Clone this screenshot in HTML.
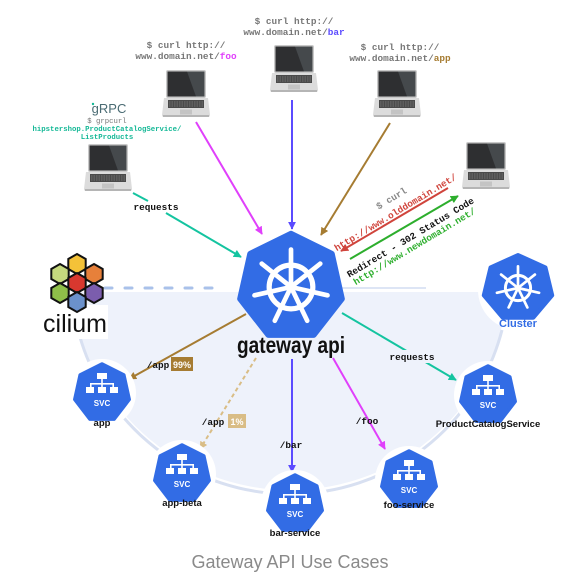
<!DOCTYPE html>
<html><head><meta charset="utf-8"><style>
html,body{margin:0;padding:0;background:#fff}
svg{display:block}
.m{font-family:"Liberation Mono",monospace;font-weight:bold;font-size:9.4px}
.s{font-family:"Liberation Sans",sans-serif;font-weight:bold}
</style></head><body>
<svg width="580" height="582" viewBox="0 0 580 582" xmlns="http://www.w3.org/2000/svg">
<defs>
<g id="lap">
  <rect x="4" y="0" width="40" height="28" rx="2" fill="#c9c9c9"/>
  <rect x="5.5" y="1.5" width="37" height="25" fill="#2e2f31"/>
  <polygon points="25,1.5 42.5,1.5 42.5,26.5 34,26.5" fill="#45494c"/>
  <path d="M2,28 H46 L48,45 Q48,47 46,47 H2 Q0,47 0,45 Z" fill="#dcdcdc"/>
  <rect x="1" y="45" width="46" height="2" fill="#b5b5b5"/>
  <rect x="6" y="30" width="36" height="8" fill="#4a4a4a"/>
  <path d="M7,32h34M7,34h34M7,36h34" stroke="#9a9a9a" stroke-width="0.6" stroke-dasharray="1.5 1"/>
  <rect x="18" y="39.5" width="12" height="5" fill="#c4c4c4"/>
</g>
<g id="hep">
  <polygon points="0,-1 0.782,-0.623 0.975,0.223 0.434,0.901 -0.434,0.901 -0.975,0.223 -0.782,-0.623" fill="#326ce5" stroke="#326ce5" stroke-width="0.12" stroke-linejoin="round"/>
</g>
<g id="wheel" fill="none" stroke="#fff">
  <circle r="0.42" stroke-width="0.1"/>
  <circle r="0.09" fill="#fff" stroke="none"/>
  <g stroke-width="0.09" stroke-linecap="round">
    <line x1="0" y1="0" x2="0" y2="-0.72"/>
    <line x1="0" y1="0" x2="0.563" y2="-0.449"/>
    <line x1="0" y1="0" x2="0.702" y2="0.16"/>
    <line x1="0" y1="0" x2="0.312" y2="0.649"/>
    <line x1="0" y1="0" x2="-0.312" y2="0.649"/>
    <line x1="0" y1="0" x2="-0.702" y2="0.16"/>
    <line x1="0" y1="0" x2="-0.563" y2="-0.449"/>
  </g>
</g>
<g id="svc">
  <circle r="34" fill="#fff"/>
  <use href="#hep" transform="scale(28,29)"/>
  <g fill="#fff">
    <rect x="-5" y="-20" width="10" height="6"/>
    <rect x="-0.8" y="-14" width="1.6" height="5"/>
    <rect x="-12" y="-10" width="24" height="1.6"/>
    <rect x="-12" y="-10" width="1.6" height="4"/>
    <rect x="10.4" y="-10" width="1.6" height="4"/>
    <rect x="-0.8" y="-10" width="1.6" height="4"/>
    <rect x="-16" y="-6" width="8" height="6"/>
    <rect x="-4" y="-6" width="8" height="6"/>
    <rect x="8" y="-6" width="8" height="6"/>
  </g>
  <text x="0" y="13" text-anchor="middle" class="s" font-size="8" fill="#fff">SVC</text>
</g>
<marker id="ah" viewBox="0 0 10 10" refX="9" refY="5" markerWidth="4" markerHeight="4" orient="auto-start-reverse" markerUnits="strokeWidth"><path d="M0,0L10,5L0,10z" fill="context-stroke"/></marker>
</defs>

<path d="M72,292 A219,219 0 0 0 508,292 Z" fill="#eef2fb"/>
<path d="M78,330 A219,219 0 0 0 502,330" fill="none" stroke="#d8e0f1" stroke-width="3"/>
<line x1="105" y1="288" x2="212" y2="288" stroke="#a9c1ea" stroke-width="3" stroke-dasharray="7 13" stroke-linecap="round"/>
<line x1="316" y1="288" x2="426" y2="288" stroke="#dde5f5" stroke-width="2"/>

<!-- cilium -->
<rect x="40" y="305" width="68" height="34" fill="#fff"/>
<g stroke="#111" stroke-width="2">
  <polygon points="77,254 85.7,259 85.7,269 77,274 68.3,269 68.3,259" fill="#f4c238"/>
  <polygon points="60,264 68.7,269 68.7,279 60,284 51.3,279 51.3,269" fill="#c6d97e"/>
  <polygon points="94,264 102.7,269 102.7,279 94,284 85.3,279 85.3,269" fill="#e7803a"/>
  <polygon points="77,273 85.7,278 85.7,288 77,293 68.3,288 68.3,278" fill="#d8382f"/>
  <polygon points="60,283 68.7,288 68.7,298 60,303 51.3,298 51.3,288" fill="#8fbf49"/>
  <polygon points="94,283 102.7,288 102.7,298 94,303 85.3,298 85.3,288" fill="#7b5dad"/>
  <polygon points="77,292 85.7,297 85.7,307 77,312 68.3,307 68.3,297" fill="#6b91cb"/>
</g>
<text x="75" y="332" text-anchor="middle" font-family="Liberation Sans,sans-serif" font-size="25" fill="#111">cilium</text>

<!-- cluster -->
<circle cx="518" cy="290" r="40" fill="#fff"/>
<g transform="translate(518,288)"><use href="#hep" transform="scale(35,33)"/><use href="#wheel" transform="scale(30)"/></g>
<text x="518" y="327" text-anchor="middle" class="s" font-size="11" fill="#326ce5">Cluster</text>

<use href="#lap" x="162" y="70"/>
<use href="#lap" x="270" y="45"/>
<use href="#lap" x="373" y="70"/>
<use href="#lap" x="84" y="144"/>
<use href="#lap" x="462" y="142"/>

<g class="m" fill="#777" text-anchor="middle">
  <text x="186" y="48">$ curl http://</text>
  <text x="186" y="59">www.domain.net/<tspan fill="#e040fb">foo</tspan></text>
  <text x="294" y="24">$ curl http://</text>
  <text x="294" y="35">www.domain.net/<tspan fill="#5b4bff">bar</tspan></text>
  <text x="400" y="50">$ curl http://</text>
  <text x="400" y="61">www.domain.net/<tspan fill="#a67c32">app</tspan></text>
  <text x="107" y="123" font-size="7.3" font-weight="normal">$ grpcurl</text>
  <text x="107" y="131" font-size="7.3" fill="#14b896">hipstershop.ProductCatalogService/</text>
  <text x="107" y="139" font-size="7.3" fill="#14b896">ListProducts</text>
</g>
<text x="109" y="113" text-anchor="middle" font-family="Liberation Sans,sans-serif" font-size="13" fill="#4a6b73">gRPC</text>
<circle cx="93" cy="104" r="1.2" fill="#14b896"/>

<!-- top arrows -->
<line x1="196" y1="122" x2="262" y2="234" stroke="#e040fb" stroke-width="2" marker-end="url(#ah)"/>
<line x1="292" y1="100" x2="292" y2="229" stroke="#5b4bff" stroke-width="2" marker-end="url(#ah)"/>
<line x1="390" y1="123" x2="321" y2="235" stroke="#a67c32" stroke-width="2" marker-end="url(#ah)"/>
<path d="M133,193 L148,201 M166,213 L241,257" stroke="#14c4a0" stroke-width="2" fill="none" marker-end="url(#ah)"/>
<text x="156" y="210" text-anchor="middle" class="m" fill="#111">requests</text>
<line x1="448" y1="188" x2="341" y2="251" stroke="#d0443c" stroke-width="2" marker-end="url(#ah)"/>
<line x1="350" y1="259" x2="458" y2="196" stroke="#2dae2d" stroke-width="2" marker-end="url(#ah)"/>

<g class="m" text-anchor="middle" font-size="8.5">
  <text transform="translate(393,201) rotate(-31)" fill="#888">$ curl</text>
  <text transform="translate(397,215) rotate(-31)" fill="#d0443c">http://www.olddomain.net/</text>
  <text transform="translate(412,240) rotate(-31)" fill="#111">Redirect - 302 Status Code</text>
  <text transform="translate(416,249) rotate(-31)" fill="#2dae2d">http://www.newdomain.net/</text>
</g>

<!-- gateway -->
<g transform="translate(291,287)"><use href="#hep" transform="scale(52,53)"/><use href="#wheel" transform="scale(52)"/></g>
<text x="291" y="353" text-anchor="middle" class="s" font-size="23" textLength="108" lengthAdjust="spacingAndGlyphs" fill="#111">gateway api</text>

<!-- lower arrows -->
<line x1="246" y1="314" x2="129" y2="379" stroke="#a67c32" stroke-width="2" marker-end="url(#ah)"/>
<line x1="256" y1="358" x2="200" y2="449" stroke="#d9bd86" stroke-width="2" stroke-dasharray="4 3" marker-end="url(#ah)"/>
<line x1="292" y1="359" x2="292" y2="472" stroke="#5b4bff" stroke-width="2" marker-end="url(#ah)"/>
<line x1="333" y1="358" x2="385" y2="449" stroke="#e040fb" stroke-width="2" marker-end="url(#ah)"/>
<line x1="342" y1="313" x2="456" y2="380" stroke="#14c4a0" stroke-width="2" marker-end="url(#ah)"/>

<rect x="383" y="350" width="58" height="13" fill="#eef2fb"/>
<text x="412" y="360" text-anchor="middle" class="m" fill="#111">requests</text>
<text x="158" y="368" text-anchor="middle" class="m" fill="#111">/app</text>
<rect x="171" y="357" width="22" height="14" fill="#a67c32"/>
<text x="182" y="368" text-anchor="middle" class="s" font-size="9" fill="#fff">99%</text>
<text x="213" y="425" text-anchor="middle" class="m" fill="#111">/app</text>
<rect x="228" y="414" width="18" height="14" fill="#d9bd86"/>
<text x="237" y="425" text-anchor="middle" class="s" font-size="9" fill="#fff">1%</text>
<text x="291" y="448" text-anchor="middle" class="m" fill="#111">/bar</text>
<text x="367" y="424" text-anchor="middle" class="m" fill="#111">/foo</text>

<use href="#svc" x="102" y="393"/>
<use href="#svc" x="182" y="474"/>
<use href="#svc" x="295" y="504"/>
<use href="#svc" x="409" y="480"/>
<use href="#svc" x="488" y="395"/>
<g class="s" font-size="9.5" fill="#111" text-anchor="middle">
  <text x="102" y="426">app</text>
  <text x="182" y="506">app-beta</text>
  <text x="295" y="536">bar-service</text>
  <text x="409" y="508">foo-service</text>
  <text x="488" y="427">ProductCatalogService</text>
</g>

<text x="290" y="568" text-anchor="middle" font-family="Liberation Sans,sans-serif" font-size="18" fill="#8a8a8a">Gateway API Use Cases</text>
</svg>
</body></html>
